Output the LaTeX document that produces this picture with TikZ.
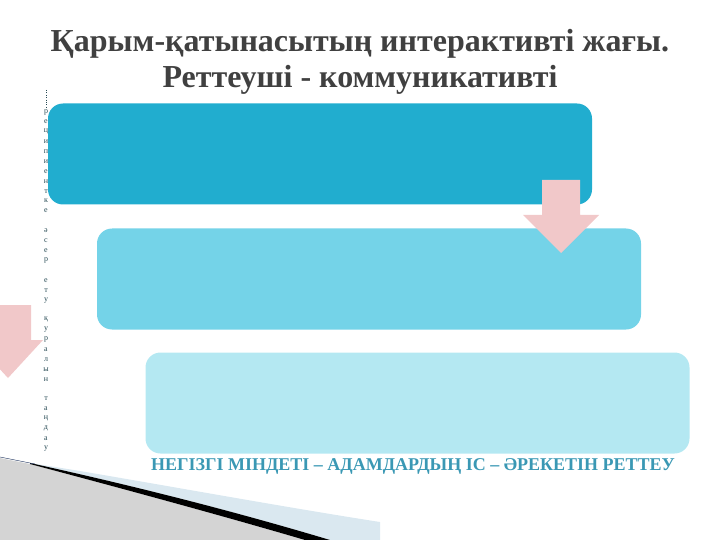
\documentclass[tikz,border=0pt]{standalone}
\usepackage{fontspec}
\setmainfont{Liberation Serif}
\usepackage{tikz}
\usetikzlibrary{positioning}
\usepackage{xcolor}
\definecolor{slidegray}{RGB}{64,64,64}
\definecolor{boxdark}{RGB}{33,173,207}
\definecolor{boxmid}{RGB}{116,211,232}
\definecolor{boxlight}{RGB}{180,232,242}
\definecolor{arrowpink}{RGB}{241,200,201}
\definecolor{captionteal}{RGB}{58,152,180}
\definecolor{lettergray}{RGB}{40,75,85}
\definecolor{swooshblue}{RGB}{218,232,240}
\definecolor{swooshnavy}{RGB}{40,60,100}
\tikzstyle{stepbox} = [rectangle, rounded corners=15pt, minimum width=544pt, minimum height=101pt, inner sep=0pt]
\tikzstyle{pinkarrow} = [fill=arrowpink, draw=none]
\tikzstyle{letter} = [inner sep=0pt, text=lettergray, font=\fontsize{8}{8}\selectfont]

\begin{document}
\begin{tikzpicture}[x=1pt, y=-1pt]
\useasboundingbox (0,0) rectangle (720,540);

% Bottom-left swoosh
\fill[black!17] (0,458) -- (30,464) .. controls (120,488) and (220,515) .. (305,540) -- (0,540) -- cycle;
\fill[swooshblue] (80,471) .. controls (180,488) and (290,508) .. (380,522) -- (380,540) -- (330,540) .. controls (230,510) and (130,485) .. (30,463) -- cycle;
\fill[black] (30,463) .. controls (130,485) and (230,510) .. (330,540) -- (305,540) .. controls (220,515) and (120,488) .. (30,464) -- cycle;
\draw[swooshnavy, thin] (0,457) -- (35,464);

% Title
\node[font=\fontsize{32}{36}\selectfont\bfseries, text=slidegray, align=center] (title) at (360,62) {Қарым-қатынасытың интерактивті жағы.\\Реттеуші - коммуникативті};

% Vertical letters
\coordinate (dottop) at (46,90);
\foreach \ch [count=\i from 0] in {р,е,ц,и,п,и,е,н,т,к,е,{},ә,с,е,р,{},е,т,у,{},қ,у,р,а,л,ы,н,{},т,а,ң,д,а,у}
  \node[letter] (ch\i) at (46,112+9.9*\i) {\ch};
\draw[dotted, lettergray] (dottop) -- (ch0.north);

% Steps
\node[stepbox, fill=boxdark] (step1) at (320,154) {};
\node[stepbox, fill=boxmid] (step2) at (369,279) {};
\node[stepbox, fill=boxlight] (step3) at (417.5,403) {};

% Arrows
\coordinate (arrowA) at (561,180);
\coordinate (arrowB) at (8,305);
\fill[pinkarrow] (arrowA) ++(-19,0) -- ++(38,0) -- ++(0,35) -- ++(19,0) -- ++(-38,38) -- ++(-38,-38) -- ++(19,0) -- cycle;
\fill[pinkarrow] (arrowB) ++(-23,0) -- ++(46,0) -- ++(0,35) -- ++(12,0) -- ++(-35,38) -- ++(-35,-38) -- ++(12,0) -- cycle;

% Caption
\node[font=\fontsize{18}{20}\selectfont\bfseries, text=captionteal] (caption) at (413,466) {НЕГІЗГІ МІНДЕТІ – АДАМДАРДЫҢ ІС – ӘРЕКЕТІН РЕТТЕУ};
\end{tikzpicture}
\end{document}
